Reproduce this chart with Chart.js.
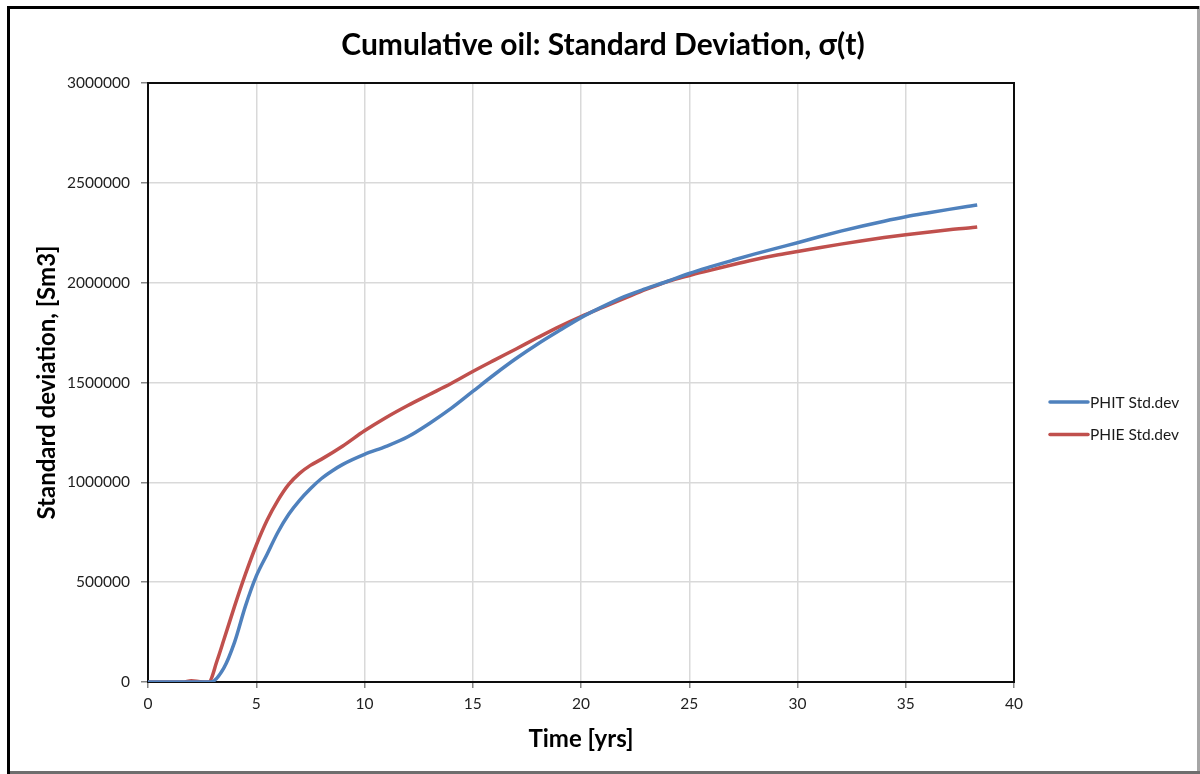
<!DOCTYPE html>
<html>
<head>
<meta charset="utf-8">
<title>Cumulative oil: Standard Deviation</title>
<script src="https://cdn.jsdelivr.net/npm/chart.js@4/dist/chart.umd.min.js"></script>
<style>
  html, body { margin: 0; padding: 0; background: #ffffff; }
  #wrap { width: 1200px; height: 774px; position: relative; }
</style>
</head>
<body>
<div id="wrap"><canvas id="chart" width="1200" height="774"></canvas></div>
<script>
// Time axis (years) and standard deviation of cumulative oil (Sm3)
const timePHIT = [0, 1, 2, 2.5, 2.9, 3.5, 4, 4.5, 5, 5.5, 6, 6.5, 7, 7.5, 8, 8.5, 9, 10, 11, 12, 13, 14, 15, 16, 17, 18, 19, 20, 21, 22, 23, 24, 25, 26, 27, 28, 29, 30, 31, 32, 33, 34, 35, 36, 37, 38, 38.3];
const stdPHIT  = [0, 0, 0, 0, 0, 70000, 200000, 380000, 530000, 640000, 750000, 840000, 910000, 968000, 1018000, 1057000, 1090000, 1140000, 1180000, 1228000, 1295000, 1370000, 1455000, 1540000, 1620000, 1693000, 1760000, 1825000, 1880000, 1930000, 1970000, 2007000, 2046000, 2080000, 2112000, 2143000, 2172000, 2200000, 2230000, 2258000, 2284000, 2308000, 2330000, 2349000, 2367000, 2384000, 2389000];

const timePHIE = [0, 1, 1.6, 2, 2.4, 2.8, 3.2, 3.5, 4, 4.5, 5, 5.5, 6, 6.5, 7, 7.5, 8, 9, 10, 11, 12, 13, 14, 15, 16, 17, 18, 19, 20, 21, 22, 23, 24, 25, 26, 27, 28, 29, 30, 31, 32, 33, 34, 35, 36, 37, 38, 38.3];
const stdPHIE  = [0, 0, 0, 6000, 1500, 0, 110000, 210000, 380000, 540000, 685000, 810000, 910000, 990000, 1045000, 1085000, 1115000, 1182000, 1258000, 1325000, 1385000, 1440000, 1495000, 1555000, 1612000, 1668000, 1725000, 1780000, 1830000, 1876000, 1921000, 1966000, 2006000, 2036000, 2063000, 2090000, 2115000, 2137000, 2156000, 2175000, 2193000, 2210000, 2226000, 2240000, 2253000, 2265000, 2275000, 2279000];

const seriesNames  = ['PHIT Std.dev', 'PHIE Std.dev'];
const seriesColors = ['#4F81BD', '#C0504D'];

const xTicks = [0, 5, 10, 15, 20, 25, 30, 35, 40];
const yTicks = [0, 500000, 1000000, 1500000, 2000000, 2500000, 3000000];

const chartTitle = 'Cumulative oil: Standard Deviation, \u03c3(t)';
const xTitle = 'Time [yrs]';
const yTitle = 'Standard deviation, [Sm3]';

const FONT = 'Lato, "Open Sans", "DejaVu Sans", sans-serif';

function toPoints(xs, ys) { return xs.map((x, i) => ({ x: x, y: ys[i] })); }

// Frame around the whole sheet, plot-area box, title and legend
const decorations = {
  id: 'decorations',
  beforeDraw(chart) {
    const ctx = chart.ctx;
    ctx.save();
    ctx.fillStyle = '#ffffff';
    ctx.fillRect(0, 0, chart.width, chart.height);
    // outer frame
    ctx.fillStyle = '#a6a6a6';
    ctx.fillRect(1197, 6, 3, 768);
    ctx.fillStyle = '#6e6e6e';
    ctx.fillRect(7, 771, 1193, 3);
    ctx.fillStyle = '#000000';
    ctx.fillRect(7, 6, 1192, 3);
    ctx.fillRect(7, 6, 3, 768);
    // title
    ctx.fillStyle = '#000000';
    ctx.font = 'bold 30px ' + FONT;
    ctx.textAlign = 'center';
    ctx.textBaseline = 'middle';
    ctx.fillText(chartTitle, 603, 45);
    ctx.restore();
  },
  beforeDatasetsDraw(chart) {
    const { left, top, right, bottom } = chart.chartArea;
    const ctx = chart.ctx;
    ctx.save();
    ctx.strokeStyle = '#0d0d0d';
    ctx.lineWidth = 2;
    ctx.strokeRect(left, top, right - left, bottom - top);
    ctx.restore();
  },
  afterDraw(chart) {
    const ctx = chart.ctx;
    ctx.save();
    ctx.font = '15.5px ' + FONT;
    ctx.textAlign = 'left';
    ctx.textBaseline = 'middle';
    chart.data.datasets.forEach((ds, i) => {
      const y = 402 + i * 32.5;
      ctx.strokeStyle = ds.borderColor;
      ctx.lineWidth = 3.5;
      ctx.lineCap = 'round';
      ctx.beginPath();
      ctx.moveTo(1050, y);
      ctx.lineTo(1088, y);
      ctx.stroke();
      ctx.fillStyle = '#1a1a1a';
      ctx.fillText(ds.label, 1090, y + 0.5);
    });
    ctx.restore();
  }
};

new Chart(document.getElementById('chart'), {
  type: 'line',
  data: {
    datasets: [
      {
        label: seriesNames[0],
        data: toPoints(timePHIT, stdPHIT),
        borderColor: seriesColors[0],
        backgroundColor: seriesColors[0],
        borderWidth: 3.5,
        pointRadius: 0,
        cubicInterpolationMode: 'monotone',
        fill: false
      },
      {
        label: seriesNames[1],
        data: toPoints(timePHIE, stdPHIE),
        borderColor: seriesColors[1],
        backgroundColor: seriesColors[1],
        borderWidth: 3.5,
        pointRadius: 0,
        cubicInterpolationMode: 'monotone',
        fill: false
      }
    ]
  },
  options: {
    responsive: false,
    animation: false,
    devicePixelRatio: 1,
    layout: { padding: { left: 0, top: 83, right: 186, bottom: 0 } },
    plugins: {
      legend: { display: false },
      title: { display: false },
      tooltip: { enabled: false }
    },
    scales: {
      x: {
        type: 'linear',
        min: xTicks[0],
        max: xTicks[xTicks.length - 1],
        afterFit(scale) { scale.height = 92; },
        afterBuildTicks(scale) { scale.ticks = xTicks.map(v => ({ value: v })); },
        grid: { color: '#d9d9d9', lineWidth: 1.5, tickLength: 6, tickColor: '#868686', drawTicks: true },
        border: { display: false },
        ticks: {
          padding: 7,
          maxRotation: 0,
          color: '#1f1f1f',
          font: { family: FONT, size: 15.5 }
        },
        title: {
          display: true,
          text: xTitle,
          color: '#000000',
          font: { family: FONT, size: 24, weight: 'bold' },
          padding: { top: 0, bottom: 20 }
        }
      },
      y: {
        type: 'linear',
        min: yTicks[0],
        max: yTicks[yTicks.length - 1],
        afterFit(scale) { scale.width = 148; },
        afterBuildTicks(scale) { scale.ticks = yTicks.map(v => ({ value: v })); },
        grid: { color: '#d9d9d9', lineWidth: 1.5, tickLength: 7, tickColor: '#868686', drawTicks: true },
        border: { display: false },
        ticks: {
          padding: 11,
          color: '#1f1f1f',
          font: { family: FONT, size: 15.5 },
          callback: (v) => String(v)
        },
        title: {
          display: true,
          text: yTitle,
          color: '#000000',
          font: { family: FONT, size: 24, weight: 'bold' },
          padding: { top: 33, bottom: 0 }
        }
      }
    }
  },
  plugins: [decorations]
});
</script>
</body>
</html>
